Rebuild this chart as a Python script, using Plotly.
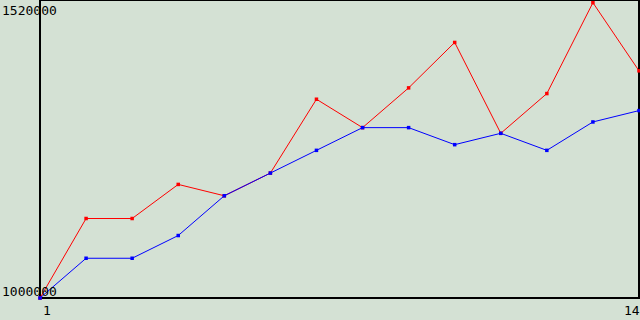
import plotly.graph_objects as go

x_vals = list(range(1, 15))
red_vals = [1000000, 1140000, 1140000, 1200000, 1180000, 1220000, 1350000,
            1300000, 1370000, 1450000, 1290000, 1360000, 1520000, 1400000]
blue_vals = [1000000, 1070000, 1070000, 1110000, 1180000, 1220000, 1260000,
             1300000, 1300000, 1270000, 1290000, 1260000, 1310000, 1330000]
y_tick_vals = [1000000, 1520000]
y_tick_text = ["1000000", "1520000"]
x_tick_vals = [1, 14]
x_tick_text = ["1", "14"]

BG = "#d4e1d4"
FONT = dict(family="DejaVu Sans Mono", size=13, color="black")

fig = go.Figure()
fig.add_trace(go.Scatter(x=x_vals, y=red_vals, mode="lines+markers",
                         line=dict(color="#ff0000", width=1),
                         marker=dict(symbol="square", size=3.5, color="#ff0000"),
                         cliponaxis=False))
fig.add_trace(go.Scatter(x=x_vals, y=blue_vals, mode="lines+markers",
                         line=dict(color="#0000ff", width=1),
                         marker=dict(symbol="square", size=3.5, color="#0000ff"),
                         cliponaxis=False))

annotations = []
annotations.append(dict(x=0, xref="paper", y=y_tick_vals[1], yref="y",
                        text=y_tick_text[1], showarrow=False, xanchor="left",
                        yanchor="top", xshift=-40, yshift=2, font=FONT))
annotations.append(dict(x=0, xref="paper", y=y_tick_vals[0], yref="y",
                        text=y_tick_text[0], showarrow=False, xanchor="left",
                        yanchor="bottom", xshift=-40, yshift=-3, font=FONT))
annotations.append(dict(x=x_tick_vals[0], xref="x", y=0, yref="paper",
                        text=x_tick_text[0], showarrow=False, xanchor="left",
                        yanchor="top", xshift=1, yshift=-3, font=FONT))
annotations.append(dict(x=x_tick_vals[1], xref="x", y=0, yref="paper",
                        text=x_tick_text[1], showarrow=False, xanchor="right",
                        yanchor="top", xshift=3, yshift=-3, font=FONT))

fig.update_layout(
    width=640, height=320,
    margin=dict(l=40, r=1, t=0, b=22),
    paper_bgcolor=BG, plot_bgcolor=BG,
    showlegend=False,
    xaxis=dict(range=[1, 14], showgrid=False, zeroline=False,
               showticklabels=False, ticks=""),
    yaxis=dict(range=[1000000, 1524750], showgrid=False, zeroline=False,
               showticklabels=False, ticks=""),
    annotations=annotations,
    shapes=[dict(type="rect", xref="paper", yref="paper", x0=0, x1=1, y0=0, y1=1,
                 line=dict(color="black", width=2), layer="below")],
)

fig.write_html("out.html")
